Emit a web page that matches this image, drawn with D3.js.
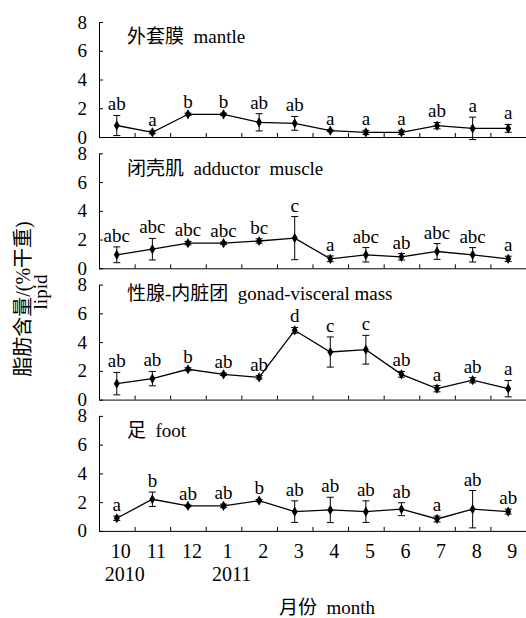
<!DOCTYPE html>
<html>
<head>
<meta charset="utf-8">
<script src="https://cdn.jsdelivr.net/npm/d3@7"></script>
<style>
  body { margin: 0; background: #fff; }
  svg text { font-family: "Liberation Serif", "Noto Sans CJK SC", serif; fill: #000; }
</style>
</head>
<body>
<svg id="chart" width="526" height="618"></svg>
<script>
// months along the x axis, and the year captions under them
const months = ['10', '11', '12', '1', '2', '3', '4', '5', '6', '7', '8', '9'];
const years = [{ at: '10', label: '2010' }, { at: '1', label: '2011' }];

// one entry per tissue
const titles = ['外套膜  mantle', '闭壳肌  adductor  muscle', '性腺-内脏团  gonad-visceral mass', '足  foot'];

const mantleMean = [0.8, 0.32, 1.58, 1.58, 1.02, 0.95, 0.44, 0.32, 0.32, 0.79, 0.6, 0.6];
const mantleSd = [0.7, 0.1, 0.08, 0.08, 0.6, 0.48, 0.06, 0.15, 0.15, 0.22, 0.78, 0.27];
const mantleSig = ['ab', 'a', 'b', 'b', 'ab', 'ab', 'a', 'a', 'a', 'ab', 'a', 'a'];

const adductorMean = [0.94, 1.33, 1.75, 1.75, 1.9, 2.1, 0.66, 0.94, 0.8, 1.17, 0.94, 0.66];
const adductorSd = [0.55, 0.75, 0.12, 0.08, 0.15, 1.5, 0.2, 0.5, 0.22, 0.55, 0.5, 0.18];
const adductorSig = ['abc', 'abc', 'abc', 'abc', 'bc', 'c', 'a', 'abc', 'ab', 'abc', 'abc', 'a'];

const gonadMean = [1.11, 1.46, 2.11, 1.76, 1.55, 4.82, 3.31, 3.47, 1.76, 0.76, 1.35, 0.76];
const gonadSd = [0.78, 0.5, 0.1, 0.08, 0.12, 0.2, 1.05, 1.0, 0.2, 0.22, 0.18, 0.57];
const gonadSig = ['ab', 'ab', 'b', 'ab', 'ab', 'd', 'c', 'c', 'ab', 'a', 'ab', 'a'];

const footMean = [0.88, 2.2, 1.74, 1.74, 2.11, 1.34, 1.46, 1.34, 1.51, 0.83, 1.51, 1.34];
const footSd = [0.15, 0.5, 0.06, 0.12, 0.08, 0.75, 0.88, 0.75, 0.45, 0.2, 1.3, 0.17];
const footSig = ['a', 'b', 'ab', 'ab', 'b', 'ab', 'ab', 'ab', 'ab', 'a', 'ab', 'ab'];

const yTicks = [0, 2, 4, 6, 8];

const panels = [
  { title: titles[0], mean: mantleMean, sd: mantleSd, sig: mantleSig },
  { title: titles[1], mean: adductorMean, sd: adductorSd, sig: adductorSig },
  { title: titles[2], mean: gonadMean, sd: gonadSd, sig: gonadSig },
  { title: titles[3], mean: footMean, sd: footSd, sig: footSig }
];

const serif = '"Liberation Serif", "Noto Sans CJK SC", serif';
const svg = d3.select('#chart');
const left = 99, right = 526;
const panelTop = 22, panelH = 115, panelStep = 131.3;
const titleDy = [21, 22, 15, 21];

const x = d3.scaleBand().domain(months).range([left, right]).padding(0);
const xIdx = d3.scaleLinear().domain([0, months.length]).range([left, right]);
const cx = m => x(m) + x.bandwidth() / 2;

panels.forEach((p, i) => {
  const top = panelTop + i * panelStep;
  const y = d3.scaleLinear().domain([0, 8]).range([top + panelH, top]);
  const g = svg.append('g');
  const rows = months.map((m, k) => ({ m, v: p.mean[k], sd: p.sd[k], sig: p.sig[k] }));

  // y axis, ticks pointing in
  const ya = g.append('g')
    .attr('transform', `translate(${left},0)`)
    .call(d3.axisLeft(y).tickValues(yTicks).tickSize(-4).tickSizeOuter(0).tickPadding(12));
  ya.attr('font-family', serif).attr('font-size', 19);
  ya.selectAll('text').style('font-family', serif).style('font-size', '19px');
  ya.selectAll('path, line').attr('stroke', '#000');

  // x axis, ticks between months pointing up
  const xa = g.append('g')
    .attr('transform', `translate(0,${top + panelH})`)
    .call(d3.axisBottom(xIdx).tickValues(d3.range(1, months.length)).tickSize(-4).tickSizeOuter(0).tickFormat(''));
  xa.selectAll('path, line').attr('stroke', '#000');

  g.append('text')
    .attr('x', 127)
    .attr('y', top + titleDy[i])
    .style('font-size', '19px')
    .style('white-space', 'pre')
    .text(p.title);

  // error bars
  const eb = g.selectAll('.eb').data(rows).join('g').attr('class', 'eb');
  eb.append('line')
    .attr('x1', d => cx(d.m)).attr('x2', d => cx(d.m))
    .attr('y1', d => y(d.v - d.sd)).attr('y2', d => y(d.v + d.sd))
    .attr('stroke', '#000').attr('stroke-width', 1);
  [-1, 1].forEach(s => {
    eb.append('line')
      .attr('x1', d => cx(d.m) - 3.5).attr('x2', d => cx(d.m) + 3.5)
      .attr('y1', d => y(d.v + s * d.sd)).attr('y2', d => y(d.v + s * d.sd))
      .attr('stroke', '#000').attr('stroke-width', 1);
  });

  g.append('path')
    .datum(rows)
    .attr('fill', 'none')
    .attr('stroke', '#000')
    .attr('stroke-width', 1.3)
    .attr('d', d3.line().x(d => cx(d.m)).y(d => y(d.v)));

  g.selectAll('.pt').data(rows).join('path')
    .attr('class', 'pt')
    .attr('transform', d => `translate(${cx(d.m)},${y(d.v)})`)
    .attr('d', d3.symbol(d3.symbolDiamond, 30))
    .attr('fill', '#000');

  g.selectAll('.sig').data(rows).join('text')
    .attr('class', 'sig')
    .attr('x', d => cx(d.m))
    .attr('y', d => y(d.v + d.sd) - 5)
    .attr('text-anchor', 'middle')
    .style('font-size', '19px')
    .text(d => d.sig);

  if (i === panels.length - 1) {
    g.selectAll('.mon').data(months).join('text')
      .attr('class', 'mon')
      .attr('x', d => cx(d) + 4)
      .attr('y', top + panelH + 27)
      .attr('text-anchor', 'middle')
      .style('font-size', '20px')
      .text(d => d);
    g.selectAll('.yr').data(years).join('text')
      .attr('class', 'yr')
      .attr('x', d => cx(d.at) + 8)
      .attr('y', top + panelH + 50)
      .attr('text-anchor', 'middle')
      .style('font-size', '20px')
      .text(d => d.label);
  }
});

svg.append('text')
  .attr('x', 327).attr('y', 614)
  .attr('text-anchor', 'middle')
  .style('font-size', '19px')
  .style('white-space', 'pre')
  .text('月份  month');

svg.append('text')
  .attr('transform', 'translate(30,299) rotate(-90)')
  .attr('text-anchor', 'middle')
  .style('font-size', '20px')
  .text('脂肪含量/(%干重)');

svg.append('text')
  .attr('transform', 'translate(47,292) rotate(-90)')
  .attr('text-anchor', 'middle')
  .style('font-size', '19px')
  .text('lipid');
</script>
</body>
</html>
